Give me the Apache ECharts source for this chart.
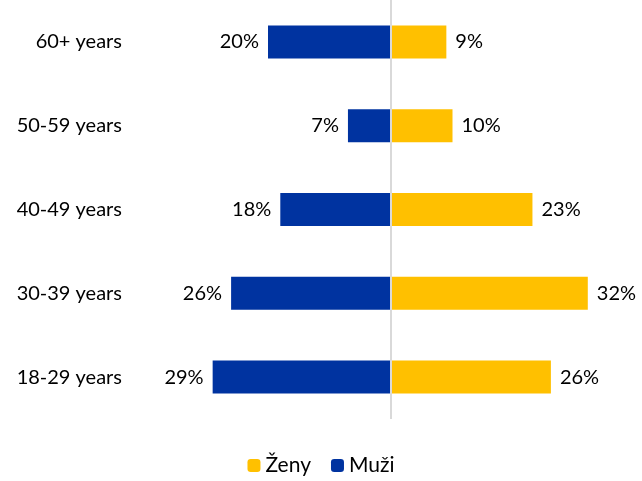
<!DOCTYPE html>
<html><head><meta charset="utf-8">
<script src="https://cdn.jsdelivr.net/npm/echarts@6/dist/echarts.min.js"></script>
<style>html,body{margin:0;padding:0;background:#fff}#c{width:642px;height:481px}</style>
</head><body><div id="c"></div>
<script>
const categories = ['18-29 years', '30-39 years', '40-49 years', '50-59 years', '60+ years'];
const zeny = [26, 32, 23, 10, 9];
const muzi = [29, 26, 18, 7, 20];
const seriesNames = ['Ženy', 'Muži'];

const FONT = 'Lato, "Open Sans", sans-serif';
const chart = echarts.init(document.getElementById('c'), null, {renderer: 'canvas'});
chart.setOption({
  animation: false,
  grid: {left: 145, right: 5, top: 0, bottom: 62, containLabel: false, outerBoundsMode: 'none'},
  xAxis: {type: 'value', min: -40, max: 40, show: false},
  yAxis: {
    type: 'category', data: categories,
    axisLine: {show: false, onZero: false},
    axisTick: {show: false},
    axisLabel: {show: true, margin: 23, fontFamily: FONT, fontSize: 20, color: '#000'}
  },
  legend: {
    bottom: 0, left: 'center', itemWidth: 13, itemHeight: 13, itemGap: 20,
    textStyle: {fontFamily: FONT, fontSize: 21, color: '#000'},
    data: seriesNames
  },
  series: [
    {
      name: seriesNames[0], type: 'bar', data: zeny, barWidth: 33, barGap: '-100%',
      itemStyle: {color: '#FFC000'},
      label: {show: true, position: 'right', distance: 9, formatter: p => Math.abs(p.value) + '%',
        fontFamily: FONT, fontSize: 20, color: '#000'}
    },
    {
      name: seriesNames[1], type: 'bar', data: muzi.map(v => -v), barWidth: 33, barGap: '-100%',
      itemStyle: {color: '#0033A0'},
      label: {show: true, position: 'left', distance: 9, formatter: p => Math.abs(p.value) + '%',
        fontFamily: FONT, fontSize: 20, color: '#000'},
      markLine: {
        silent: true, symbol: 'none', label: {show: false},
        lineStyle: {color: '#d9d9d9', width: 2, type: 'solid'},
        data: [{xAxis: 0}]
      }
    }
  ]
});
</script></body></html>
